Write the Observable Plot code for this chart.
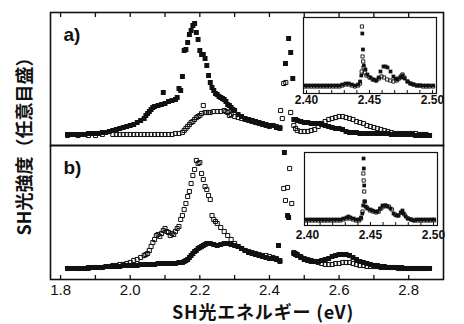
<!DOCTYPE html>
<html><head><meta charset="utf-8">
<script src="https://cdn.jsdelivr.net/npm/d3@7"></script>
<script src="https://cdn.jsdelivr.net/npm/@observablehq/plot@0.6"></script>
<style>
body{margin:0;background:#fff}
#fig{position:relative;width:464px;height:324px;overflow:hidden;background:#fff}
#fig svg{position:absolute;left:0;top:0}
.jp{position:absolute;font-family:"Noto Sans CJK JP",sans-serif;font-weight:bold;color:#111;white-space:nowrap;line-height:1}
</style></head><body><div id="fig"></div>
<script>
// ---------- data (energy eV, intensity arb. units) ----------
const aFilled = [[1.82,11],[1.83,11],[1.84,11],[1.85,11],[1.86,11],[1.87,11],[1.88,12],[1.89,12],[1.90,12],[1.91,12],[1.92,13],[1.93,13],[1.94,14],[1.95,15],[1.96,16],[1.97,17],[1.98,18],[1.99,19],[2.00,20],[2.01,21],[2.02,23],[2.03,25],[2.04,27],[2.045,30],[2.05,32],[2.055,34],[2.06,36],[2.065,38],[2.07,39],[2.08,40],[2.09,41],[2.095,53],[2.10,42],[2.11,44],[2.12,45],[2.13,46],[2.135,48],[2.14,57],[2.145,55],[2.15,69],[2.155,95],[2.16,96],[2.165,103],[2.17,111],[2.175,115],[2.18,120],[2.185,122],[2.19,113],[2.195,106],[2.20,95],[2.205,91],[2.21,91],[2.215,87],[2.22,80],[2.225,70],[2.23,63],[2.235,58],[2.24,55],[2.245,52],[2.25,51],[2.255,49],[2.26,48],[2.265,47],[2.27,46],[2.275,44],[2.28,41],[2.285,40],[2.29,38],[2.295,36],[2.30,35],[2.31,31],[2.32,29],[2.33,27],[2.34,26],[2.35,25],[2.36,24],[2.37,23],[2.38,22],[2.39,21],[2.40,20],[2.41,20],[2.42,18],[2.43,17],[2.446,82],[2.455,107],[2.461,93],[2.467,67],[2.47,26],[2.475,26],[2.48,25],[2.49,24],[2.50,23],[2.51,23],[2.52,22],[2.53,22],[2.54,22],[2.55,21],[2.56,20],[2.57,19],[2.58,18],[2.59,17],[2.60,17],[2.61,16],[2.62,14],[2.63,13],[2.64,13],[2.65,13],[2.66,12],[2.67,12],[2.68,12],[2.69,12],[2.70,12],[2.71,12],[2.72,12],[2.73,12],[2.74,12],[2.75,11],[2.76,11],[2.77,11],[2.78,11],[2.79,11],[2.80,11],[2.81,11],[2.82,10],[2.83,10],[2.84,10],[2.85,10],[2.86,10]];
const aOpen = [[1.82,10],[1.85,10],[1.88,10],[1.90,10],[1.92,11],[1.95,11],[1.96,11],[1.97,11],[1.98,11],[1.99,11],[2.00,11],[2.01,11],[2.02,11],[2.03,11],[2.04,11],[2.05,11],[2.06,11],[2.07,11],[2.08,11],[2.09,11],[2.10,11],[2.11,11],[2.12,11],[2.13,12],[2.14,12],[2.15,13],[2.155,15],[2.16,17],[2.165,19],[2.17,21],[2.175,23],[2.18,24],[2.185,26],[2.19,28],[2.195,29],[2.20,30],[2.205,32],[2.21,40],[2.215,33],[2.22,33],[2.225,33],[2.23,33],[2.24,34],[2.25,34],[2.26,34],[2.27,35],[2.275,34],[2.28,33],[2.285,30],[2.29,31],[2.30,29],[2.31,28],[2.32,27],[2.33,26],[2.34,25],[2.35,24],[2.36,23],[2.37,22],[2.38,21],[2.39,20],[2.40,19],[2.41,20],[2.42,19],[2.43,18],[2.432,35],[2.437,27],[2.441,62],[2.447,63],[2.461,33],[2.47,20],[2.475,17],[2.48,15],[2.49,14],[2.50,14],[2.51,14],[2.52,15],[2.53,16],[2.54,19],[2.55,22],[2.56,24],[2.57,26],[2.58,27],[2.59,28],[2.60,29],[2.61,29],[2.62,28],[2.63,27],[2.64,26],[2.65,24],[2.66,23],[2.67,22],[2.68,20],[2.69,19],[2.70,18],[2.71,17],[2.72,16],[2.73,15],[2.74,14],[2.75,13],[2.76,12],[2.77,12],[2.78,12],[2.79,12],[2.80,12],[2.81,12],[2.82,12],[2.83,11],[2.84,11],[2.85,11]];
const bFilled = [[1.82,11],[1.83,11],[1.84,11],[1.85,11],[1.86,11],[1.87,11],[1.88,12],[1.89,12],[1.90,12],[1.91,12],[1.92,12],[1.93,13],[1.94,13],[1.95,13],[1.96,13],[1.97,13],[1.98,14],[1.99,14],[2.00,14],[2.01,14],[2.02,14],[2.03,15],[2.04,15],[2.05,15],[2.06,15],[2.07,15],[2.08,16],[2.09,16],[2.10,16],[2.11,16],[2.12,16],[2.13,16],[2.14,17],[2.15,17],[2.155,18],[2.16,19],[2.165,20],[2.17,22],[2.175,24],[2.18,26],[2.185,28],[2.19,29],[2.195,31],[2.20,32],[2.205,33],[2.21,34],[2.215,35],[2.22,36],[2.23,36],[2.24,35],[2.25,34],[2.26,35],[2.27,36],[2.28,36],[2.29,35],[2.30,34],[2.31,33],[2.32,31],[2.33,29],[2.34,27],[2.35,26],[2.36,25],[2.37,24],[2.38,23],[2.39,22],[2.40,21],[2.41,21],[2.42,20],[2.43,19],[2.426,34],[2.443,127],[2.452,64],[2.455,62],[2.47,26],[2.475,25],[2.48,24],[2.49,22],[2.50,20],[2.51,19],[2.52,18],[2.53,18],[2.54,18],[2.55,19],[2.56,20],[2.57,21],[2.58,23],[2.59,24],[2.60,25],[2.61,25],[2.62,25],[2.63,24],[2.64,22],[2.65,20],[2.66,18],[2.67,17],[2.68,16],[2.69,15],[2.70,14],[2.71,14],[2.72,13],[2.73,13],[2.74,12],[2.75,12],[2.76,12],[2.77,12],[2.78,12],[2.79,11],[2.80,11],[2.81,11],[2.82,11],[2.83,11],[2.84,11],[2.85,11],[2.86,11]];
const bOpen = [[1.82,11],[1.85,11],[1.88,11],[1.90,12],[1.92,12],[1.94,13],[1.95,14],[1.96,14],[1.97,15],[1.98,15],[1.99,16],[2.00,17],[2.01,19],[2.02,20],[2.03,22],[2.04,24],[2.045,25],[2.05,26],[2.055,29],[2.06,33],[2.065,37],[2.07,40],[2.075,44],[2.08,45],[2.085,43],[2.09,46],[2.095,49],[2.10,51],[2.105,48],[2.11,47],[2.115,44],[2.12,46],[2.125,45],[2.13,48],[2.135,51],[2.14,53],[2.145,60],[2.15,64],[2.155,70],[2.16,76],[2.165,83],[2.17,88],[2.175,96],[2.18,104],[2.185,110],[2.19,119],[2.195,116],[2.20,117],[2.205,106],[2.21,100],[2.215,93],[2.22,90],[2.225,84],[2.23,80],[2.235,64],[2.24,60],[2.245,58],[2.25,56],[2.26,52],[2.27,48],[2.28,44],[2.29,40],[2.30,36],[2.31,33],[2.32,31],[2.33,29],[2.34,28],[2.35,27],[2.36,26],[2.37,25],[2.38,24],[2.39,24],[2.40,23],[2.41,22],[2.42,21],[2.43,18],[2.441,91],[2.446,79],[2.452,92],[2.458,111],[2.464,76],[2.47,27],[2.475,26],[2.48,25],[2.49,23],[2.50,21],[2.51,20],[2.52,19],[2.53,18],[2.54,17],[2.55,16],[2.56,15],[2.57,15],[2.58,15],[2.59,16],[2.60,16],[2.61,17],[2.62,17],[2.63,17],[2.64,16],[2.65,15],[2.66,14],[2.67,14],[2.68,13],[2.69,13],[2.70,13],[2.71,13],[2.72,12],[2.73,12],[2.74,12],[2.75,12],[2.76,12],[2.77,11],[2.78,11],[2.79,11],[2.80,11],[2.81,11],[2.82,11],[2.83,11],[2.84,11],[2.85,11]];
const insetAFilled = [[2.3985,8],[2.401,8],[2.4035,8],[2.406,8],[2.4085,8],[2.411,8],[2.4135,8],[2.416,8],[2.4185,8],[2.421,8],[2.4235,8],[2.426,8],[2.4285,9],[2.431,10],[2.4335,10],[2.436,9],[2.4385,8],[2.441,9],[2.4425,12],[2.4435,18],[2.4443,60],[2.4448,44],[2.4455,28],[2.4468,24],[2.4484,19],[2.4508,16],[2.4532,14],[2.4556,13],[2.4572,16],[2.4587,22],[2.4611,27],[2.4627,27],[2.4643,26],[2.4667,22],[2.469,17],[2.4706,15],[2.4722,14],[2.4746,16],[2.4762,18],[2.478,15],[2.4802,12],[2.4825,10],[2.4849,9],[2.4875,8],[2.49,8],[2.4925,8],[2.495,8],[2.4975,8],[2.5005,8]];
const insetAOpen = [[2.3985,7],[2.401,7],[2.4035,7],[2.406,7],[2.4085,7],[2.411,7],[2.4135,7],[2.416,7],[2.4185,7],[2.421,7],[2.4235,7],[2.426,7],[2.4285,8],[2.431,9],[2.4335,9],[2.436,8],[2.4385,7],[2.441,8],[2.4425,10],[2.4438,22],[2.444,67],[2.4445,37],[2.445,32],[2.4453,26],[2.4462,21],[2.4476,18],[2.45,16],[2.4525,14],[2.455,13],[2.4575,15],[2.4595,17],[2.4615,16],[2.464,14],[2.4665,13],[2.469,12],[2.4715,13],[2.4735,15],[2.4748,17],[2.4762,19],[2.4775,16],[2.4802,12],[2.4825,10],[2.4849,9],[2.4875,8],[2.49,8],[2.4925,7],[2.495,7],[2.4975,7],[2.5005,7]];
const insetBFilled = [[2.3985,6],[2.401,6],[2.4035,6],[2.406,6],[2.4085,6],[2.411,6],[2.4135,6],[2.416,6],[2.4185,6],[2.421,6],[2.4235,6],[2.426,6],[2.4285,7],[2.431,8],[2.4325,9],[2.434,8],[2.4365,7],[2.439,6],[2.441,6],[2.4425,8],[2.4435,12],[2.4442,20],[2.4445,67],[2.4447,57],[2.445,40],[2.4452,24],[2.4462,19],[2.4476,17],[2.45,16],[2.4516,15],[2.4536,14],[2.4556,14],[2.4575,17],[2.4595,20],[2.4615,20],[2.4635,19],[2.4659,17],[2.4683,12],[2.4705,10],[2.4722,10],[2.474,13],[2.4754,15],[2.4762,12],[2.478,9],[2.4794,7],[2.482,6],[2.4841,5],[2.4865,6],[2.489,6],[2.4915,6],[2.494,6],[2.4965,6],[2.499,6],[2.5005,6]];
const insetBOpen = [[2.3985,5],[2.401,5],[2.4035,5],[2.406,5],[2.4085,5],[2.411,5],[2.4135,5],[2.416,5],[2.4185,5],[2.421,5],[2.4235,5],[2.426,5],[2.4285,6],[2.431,7],[2.4335,7],[2.436,6],[2.4385,5],[2.441,5],[2.4425,7],[2.4437,14],[2.4443,52],[2.4446,45],[2.445,34],[2.4455,24],[2.447,18],[2.4495,15],[2.452,14],[2.4545,13],[2.4565,14],[2.4585,17],[2.4605,19],[2.462,20],[2.4645,19],[2.467,16],[2.4695,11],[2.472,10],[2.4745,13],[2.477,11],[2.48,7],[2.4825,6],[2.485,5],[2.4875,5],[2.49,5],[2.4925,5],[2.495,5],[2.4975,5],[2.5005,5]];

const mainTicks = [1.8,1.9,2.0,2.1,2.2,2.3,2.4,2.5,2.6,2.7,2.8];
const mainTickLabels = [1.8,2.0,2.2,2.4,2.6,2.8];
const insetTicks = [2.40,2.41,2.42,2.43,2.44,2.45,2.46,2.47,2.48,2.49,2.50];
const insetTickLabels = [2.40,2.45,2.50];
const panelTags = ["a)","b)"];
const xTitle = "SH光エネルギー (eV)";
const yTitle = "SH光強度（任意目盛）";

// ---------- drawing ----------
const ink = "#111";
const FONT = "'Liberation Sans', Arial, sans-serif";
const fig = document.getElementById("fig");

function mainPanel({filled, open, yMax, tag, height, marginTop, marginBottom, top, bottom}) {
  return Plot.plot({
    width: 464, height, marginTop, marginBottom, marginLeft: 50, marginRight: 21,
    x: {domain: [1.771, 2.900]},
    y: {domain: [0, yMax], axis: null},
    style: {background: "transparent", overflow: "visible", fontFamily: FONT, color: ink},
    marks: [
      Plot.dot(open, {x: d => d[0], y: d => d[1], symbol: "square", r: 2.3, stroke: ink, strokeWidth: 1, fill: "none", clip: true}),
      Plot.dot(filled, {x: d => d[0], y: d => d[1], symbol: "square", r: 2.8, fill: ink, stroke: "none", clip: true}),
      Plot.frame({stroke: ink, strokeWidth: 1.6}),
      top ? Plot.axisX(mainTicks, {anchor: "top", tickSize: -4, tickFormat: () => "", label: null, strokeWidth: 1.3}) : null,
      bottom ? Plot.axisX(mainTicks, {anchor: "bottom", tickSize: -4, tickFormat: () => "", label: null, strokeWidth: 1.3}) : null,
      bottom ? Plot.axisX(mainTickLabels, {anchor: "bottom", tickSize: 0, tickPadding: 5, tickFormat: d => d.toFixed(1), fontSize: 15, label: null}) : null,
      Plot.text([tag], {text: d => d, frameAnchor: "top-left", dx: 13, dy: 15, textAnchor: "start", lineAnchor: "top", fontSize: 19, fontWeight: "bold", fill: ink})
    ]
  });
}

function inset({filled, open, yMax, left, topPx, frameH, pad}) {
  const svg = Plot.plot({
    width: 161, height: frameH + 17, marginTop: 1, marginBottom: 16, marginLeft: 14, marginRight: 14,
    x: {domain: [2.3976, 2.5032]},
    y: {domain: [0, yMax], axis: null},
    style: {background: "transparent", overflow: "visible", fontFamily: FONT, color: ink},
    marks: [
      Plot.frame({fill: "white", stroke: "none"}),
      Plot.dot(open, {x: d => d[0], y: d => d[1], symbol: "square", r: 1.8, stroke: ink, strokeWidth: 0.9, fill: "none", clip: true}),
      Plot.dot(filled, {x: d => d[0], y: d => d[1], symbol: "square", r: 2.1, fill: ink, stroke: "none", clip: true}),
      Plot.frame({stroke: ink, strokeWidth: 1.2}),
      Plot.axisX(insetTicks, {anchor: "bottom", tickSize: -3, tickFormat: () => "", label: null}),
      Plot.axisX(insetTickLabels, {anchor: "bottom", tickSize: 0, tickPadding: pad, tickFormat: d => d.toFixed(2), fontSize: 12, fontWeight: "bold", label: null})
    ]
  });
  svg.style.left = left + "px";
  svg.style.top = topPx + "px";
  return svg;
}

fig.append(mainPanel({filled: aFilled, open: aOpen, yMax: 133, tag: panelTags[0], height: 146, marginTop: 12, marginBottom: 1, top: true, bottom: false}));
fig.append(mainPanel({filled: bFilled, open: bOpen, yMax: 134, tag: panelTags[1], height: 324, marginTop: 145, marginBottom: 45, top: false, bottom: true}));
fig.append(inset({filled: insetAFilled, open: insetAOpen, yMax: 76, left: 289, topPx: 16, frameH: 76, pad: 2}));
fig.append(inset({filled: insetBFilled, open: insetBOpen, yMax: 73, left: 290, topPx: 151, frameH: 73, pad: 5}));

const xl = document.createElement("div");
xl.className = "jp"; xl.textContent = xTitle;
Object.assign(xl.style, {left: "172px", top: "302px", fontSize: "18px", letterSpacing: "0.8px"});
fig.append(xl);

const yl = document.createElement("div");
yl.className = "jp"; yl.textContent = yTitle;
Object.assign(yl.style, {left: "23px", top: "142px", fontSize: "18px", transform: "translate(-50%,-50%) rotate(-90deg)"});
fig.append(yl);
</script></body></html>
